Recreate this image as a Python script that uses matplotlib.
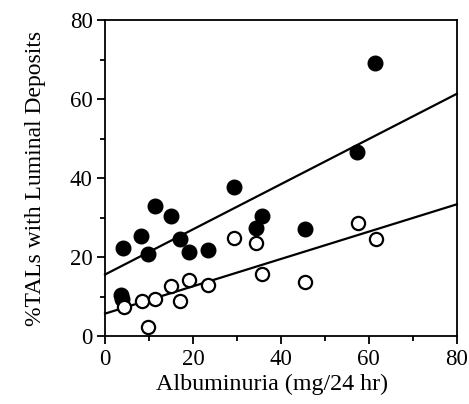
import matplotlib
matplotlib.use("Agg")
import matplotlib.pyplot as plt
from matplotlib.ticker import MultipleLocator
import numpy as np

# filled circles
filled_x = [4.0, 3.6, 3.8, 8.1, 9.7, 11.4, 15.1, 17.0, 19.2, 23.3, 29.3, 34.4, 35.8, 45.5, 57.3, 61.5]
filled_y = [22.4, 10.4, 9.4, 25.3, 20.7, 33.0, 30.5, 24.5, 21.3, 21.8, 37.7, 27.4, 30.5, 27.2, 46.5, 69.2]

# open circles
open_x = [4.2, 8.3, 11.4, 9.8, 15.1, 17.0, 19.2, 23.3, 29.3, 34.4, 35.8, 45.5, 57.6, 61.6]
open_y = [7.3, 8.9, 9.3, 2.2, 12.7, 8.9, 14.2, 12.9, 24.9, 23.5, 15.8, 13.7, 28.7, 24.7]

# regression lines (intercept, slope)
fit_filled = (15.6, 0.572)
fit_open = (5.7, 0.346)

plt.rcParams['font.family'] = ['Liberation Serif', 'DejaVu Serif']

fig = plt.figure(figsize=(4.69, 4.04), dpi=100)
ax = fig.add_axes([0.224, 0.168, 0.750, 0.782])

xs = np.array([0, 80])
for b, m in (fit_filled, fit_open):
    ax.plot(xs, b + m * xs, color='black', lw=1.6, clip_on=False, zorder=2)

ax.plot(filled_x, filled_y, 'o', color='black', ms=10.5, zorder=3, clip_on=False)
ax.plot(open_x, open_y, 'o', mfc='white', mec='black', mew=1.6, ms=9.5, zorder=4, clip_on=False)

ax.set_xlim(0, 80)
ax.set_ylim(0, 80)
ax.xaxis.set_major_locator(MultipleLocator(20))
ax.xaxis.set_minor_locator(MultipleLocator(10))
ax.yaxis.set_major_locator(MultipleLocator(20))
ax.yaxis.set_minor_locator(MultipleLocator(10))
ax.tick_params(which='both', direction='out', top=False, right=False, width=1.3, labelsize=16.5)
ax.tick_params(which='major', length=6, pad=3)
ax.tick_params(which='minor', length=3.5)
for s in ax.spines.values():
    s.set_linewidth(1.3)

ax.set_xlabel('Albuminuria (mg/24 hr)', fontsize=17.3, labelpad=3, x=0.474)
ax.set_ylabel('%TALs with Luminal Deposits', fontsize=17, labelpad=17)

fig.savefig('out.png', dpi=100)
